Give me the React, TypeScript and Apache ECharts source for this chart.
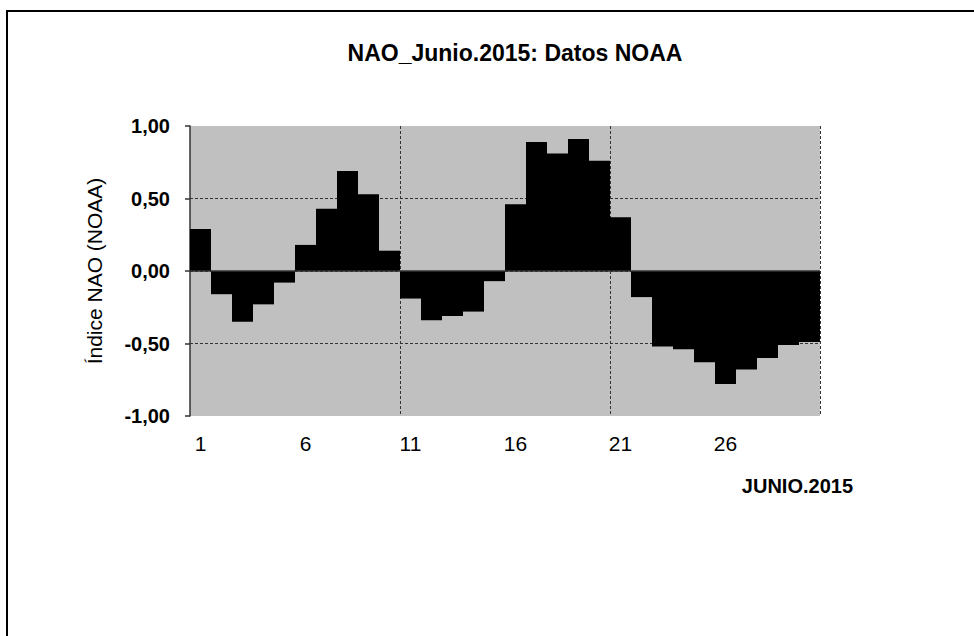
import React, { useEffect, useRef } from "react";
import * as echarts from "echarts";

const days = [
  "1", "2", "3", "4", "5", "6", "7", "8", "9", "10",
  "11", "12", "13", "14", "15", "16", "17", "18", "19", "20",
  "21", "22", "23", "24", "25", "26", "27", "28", "29", "30",
];

const naoValues = [
  0.29, -0.16, -0.35, -0.23, -0.08, 0.18, 0.43, 0.69, 0.53, 0.14,
  -0.19, -0.34, -0.31, -0.28, -0.07, 0.46, 0.89, 0.81, 0.91, 0.76,
  0.37, -0.18, -0.52, -0.54, -0.63, -0.78, -0.68, -0.6, -0.51, -0.49,
];

const chartTitle = "NAO_Junio.2015: Datos NOAA";
const yAxisTitle = "Índice NAO (NOAA)";
const xAxisTitle = "JUNIO.2015";

const FONT = "'Liberation Sans', Arial, sans-serif";

export default function App() {
  const ref = useRef<HTMLDivElement>(null);

  useEffect(() => {
    if (!ref.current) return;
    const chart = echarts.init(ref.current, null, { renderer: "svg" });
    chart.setOption({
      animation: false,
      backgroundColor: "#ffffff",
      textStyle: { fontFamily: FONT },
      graphic: [
        {
          type: "rect",
          shape: { x: 7, y: 11, width: 1000, height: 700 },
          style: { fill: "none", stroke: "#000", lineWidth: 2 },
          silent: true,
        },
        {
          type: "text",
          x: 515,
          y: 53,
          style: {
            text: chartTitle,
            font: `bold 23px ${FONT}`,
            fill: "#000",
            textAlign: "center",
            textVerticalAlign: "middle",
          },
        },
        {
          type: "text",
          x: 853,
          y: 486,
          style: {
            text: xAxisTitle,
            font: `bold 20px ${FONT}`,
            fill: "#000",
            textAlign: "right",
            textVerticalAlign: "middle",
          },
        },
      ],
      grid: {
        left: 190,
        right: 154,
        top: 126,
        bottom: 220,
        show: true,
        backgroundColor: "#c0c0c0",
        borderWidth: 0,
        containLabel: false,
      },
      xAxis: [
        {
          type: "category",
          data: days,
          boundaryGap: true,
          axisLine: { show: false },
          axisTick: { show: false },
          splitLine: { show: false },
          axisLabel: {
            interval: 4,
            fontSize: 21,
            color: "#000",
            margin: 17,
            fontFamily: FONT,
          },
        },
        {
          type: "value",
          min: 0,
          max: 30,
          interval: 10,
          position: "bottom",
          axisLine: { show: false },
          axisTick: { show: false },
          axisLabel: { show: false },
          splitLine: {
            show: true,
            showMinLine: false,
            lineStyle: { color: "#333", width: 1, type: [3, 2] },
          },
        },
      ],
      yAxis: {
        type: "value",
        min: -1,
        max: 1,
        interval: 0.5,
        name: yAxisTitle,
        nameLocation: "middle",
        nameRotate: 90,
        nameGap: 85,
        nameTextStyle: { fontSize: 21, color: "#000", fontFamily: FONT },
        axisLine: { show: true, lineStyle: { color: "#333", width: 1.5 } },
        axisTick: { show: true, length: 5, lineStyle: { color: "#333", width: 1.5 } },
        axisLabel: {
          fontSize: 20,
          fontWeight: "bold",
          color: "#000",
          margin: 20,
          fontFamily: FONT,
          formatter: (v: number) => v.toFixed(2).replace(".", ","),
        },
        splitLine: {
          show: true,
          showMinLine: false,
          showMaxLine: false,
          lineStyle: { color: "#333", width: 1, type: [3, 2] },
        },
      },
      series: [
        {
          type: "bar",
          data: naoValues,
          xAxisIndex: 0,
          barCategoryGap: "0%",
          itemStyle: { color: "#000" },
          markLine: {
            silent: true,
            symbol: ["none", "none"],
            label: { show: false },
            lineStyle: { color: "#333", width: 1.5, type: "solid" },
            data: [{ yAxis: 0 }],
          },
        },
      ],
    });
    return () => chart.dispose();
  }, []);

  return (
    <div
      ref={ref}
      style={{ position: "fixed", left: 0, top: 0, width: 974, height: 636 }}
    />
  );
}
